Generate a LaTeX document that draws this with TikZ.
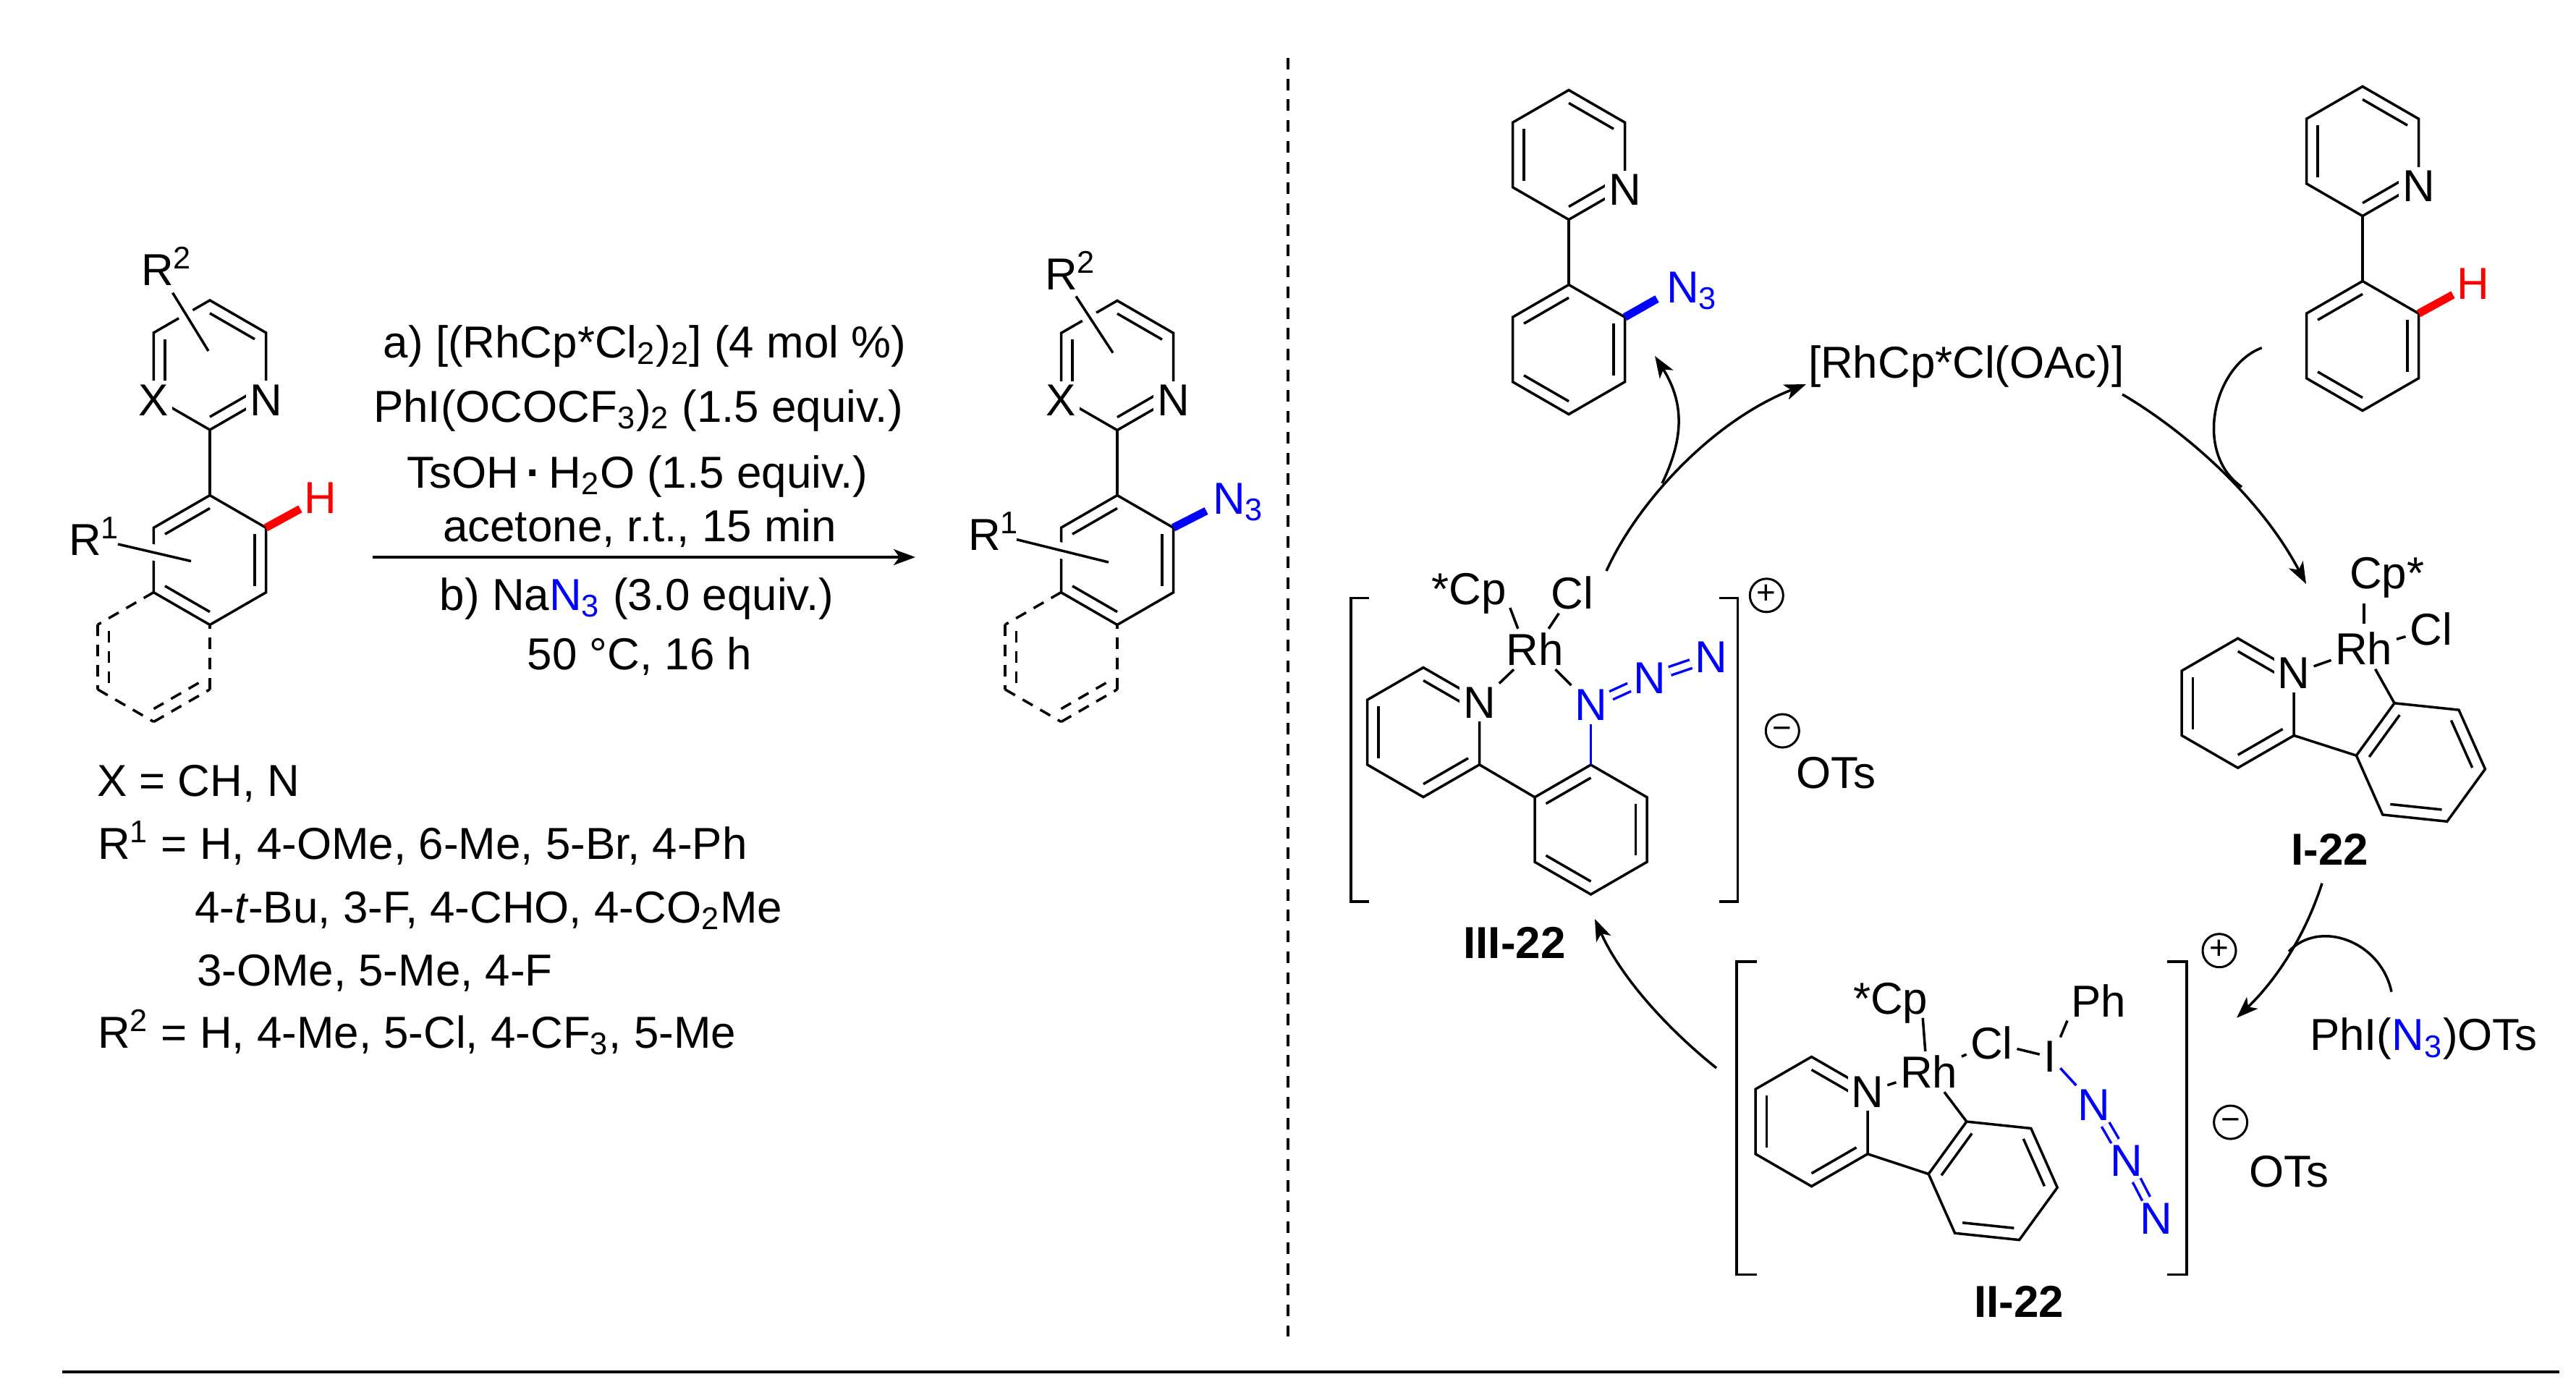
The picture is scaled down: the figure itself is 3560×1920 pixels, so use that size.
\documentclass[tikz,border=0pt]{standalone}
\usepackage{fontspec}
\setmainfont{Liberation Sans}
\usetikzlibrary{calc,arrows.meta}

\tikzset{
    bond/.style={line width=0.035cm},
    dashbond/.style={bond, dash pattern=on 0.16cm off 0.12cm},
    overbond/.style={bond, preaction={draw=white, line width=0.22cm}},
    azide/.style={bond, blue},
    azidedbl/.style={bond, blue, double=white, double distance=0.085cm},
    redwedge/.style={red, line width=0.11cm},
    bluewedge/.style={blue, line width=0.11cm},
    cycle arrow/.style={bond, -{Stealth[length=0.3cm, width=0.22cm, inset=0.08cm]}},
    atom/.style={fill=white, inner sep=0.05cm, outer sep=0pt, yshift=-0.035cm},
    lab/.style={anchor=base west, inner sep=0.05cm, outer sep=0pt},
    line/.style={anchor=base, inner sep=0pt},
    charge/.style={draw, circle, line width=0.03cm, inner sep=0pt, minimum size=0.46cm,
        text height=0.66em, font=\fontsize{13}{13}\selectfont},
}

% corners of a regular ring: name, x, y, turn
\newcommand{\hexpts}[4]{
    \coordinate (#1) at (#2,#3);
    \foreach \k in {0,...,5} {
        \path (#1) ++({#4+60*\k}:89.5) coordinate (#1-\k);
    }
}
\newcommand{\hexring}[4]{
    \hexpts{#1}{#2}{#3}{#4}
    \draw[bond] (#1-0) -- (#1-1) -- (#1-2) -- (#1-3) -- (#1-4) -- (#1-5) -- cycle;
}
\newcommand{\inbond}[4][bond]{\draw[#1] ($(#2-#3)!.2!(#2)$) -- ($(#2-#4)!.2!(#2)$);}
% pyridine ring and arene ring
\newcommand{\tworings}[6]{
    \hexring{#1p}{#2}{#3}{30}
    \hexring{#1a}{#4}{#5}{#6}
    \inbond{#1p}{4}{5} \inbond{#1p}{2}{3} \inbond{#1p}{0}{1}
    \inbond{#1a}{3}{4} \inbond{#1a}{5}{0} \inbond{#1a}{1}{2}
}
% optional fused ring in dashes
\newcommand{\dashring}[3]{
    \hexpts{#1}{#2}{#3}{30}
    \foreach \s/\e in {4/3,3/2,2/1,1/0,0/5} {
        \draw[dashbond] (#1-\s) -- (#1-\e);
    }
    \inbond[dashbond]{#1}{3}{2} \inbond[dashbond]{#1}{0}{1}
}

\begin{document}
\begin{tikzpicture}[x=0.01cm, y=-0.01cm,
    every node/.style={font=\fontsize{17.6}{21}\selectfont, text depth=0pt}]
\useasboundingbox (0,0) rectangle (3560,1920);

% substrate
\tworings{sm}{290}{504.5}{290}{774}{30}
\draw[bond] (sma-4) -- (smp-1);
\dashring{smf}{212.5}{908}
\draw[overbond] (238.6,404.6) -- (288,485);
\draw[overbond] (163,752) -- (264,775.5);
\node[atom] (smX) at (smp-2) {X};
\node[atom] (smN) at (smp-0) {N};
\node[lab] (smRb) at (190,394) {R\textsuperscript{2}};
\node[lab] (smRa) at (90,767) {R\textsuperscript{1}};
\node[inner sep=0.05cm, text=red] (smH) at (443,688) {H};
\draw[redwedge] (sma-5) -- (smH);

% conditions
\node[line] (condA) at (891,494) {a) [(RhCp*Cl\textsubscript{2})\textsubscript{2}] (4 mol \%)};
\node[line] (condB) at (882,583) {PhI(OCOCF\textsubscript{3})\textsubscript{2} (1.5 equiv.)};
\node[line] (condC) at (881,674) {TsOH\,\textbf{·}\,H\textsubscript{2}O (1.5 equiv.)};
\node[line] (condD) at (884,748) {acetone, r.t., 15 min};
\node[line] (condE) at (880,843) {b) Na{\color{blue}N\textsubscript{3}} (3.0 equiv.)};
\node[line] (condF) at (884,925) {50 °C, 16 h};
\coordinate (arrS) at (515,770);
\coordinate (arrE) at (1265,770);
\draw[cycle arrow] (arrS) -- (arrE);

% scope of the reaction
\node[lab] (scX) at (129,1100) {X = CH, N};
\node[lab] (scRa) at (130,1187) {R\textsuperscript{1} = H, 4-OMe, 6-Me, 5-Br, 4-Ph};
\node[lab] (scRb) at (264,1275) {4-\textit{t}-Bu, 3-F, 4-CHO, 4-CO\textsubscript{2}Me};
\node[lab] (scRc) at (267,1362) {3-OMe, 5-Me, 4-F};
\node[lab] (scRd) at (130,1448) {R\textsuperscript{2} = H, 4-Me, 5-Cl, 4-CF\textsubscript{3}, 5-Me};

% product
\tworings{pr}{1544}{505}{1544}{774}{30}
\draw[bond] (pra-4) -- (prp-1);
\dashring{prf}{1466.5}{908}
\draw[overbond] (1487,409.5) -- (1538,487.6);
\draw[overbond] (1405,745.6) -- (1532,777);
\node[atom] (prX) at (prp-2) {X};
\node[atom] (prN) at (prp-0) {N};
\node[lab] (prRb) at (1439,400) {R\textsuperscript{2}};
\node[lab] (prRa) at (1333,760) {R\textsuperscript{1}};
\node[lab, text=blue] (prAz) at (1671,710) {N\textsubscript{3}};
\coordinate (prTip) at (1667,706);
\draw[bluewedge] (pra-5) -- (prTip);

% dividers
\coordinate (divT) at (1780,80);
\coordinate (divB) at (1780,1847);
\draw[line width=0.04cm, dash pattern=on 0.16cm off 0.127cm] (divT) -- (divB);
\coordinate (ruleL) at (86,1896);
\coordinate (ruleR) at (3537,1896);
\draw[line width=0.04cm] (ruleL) -- (ruleR);

% azide formed
\tworings{az}{2168}{214}{2168}{483}{30}
\draw[bond] (aza-4) -- (azp-1);
\node[atom] (azN) at (azp-0) {N};
\node[lab, text=blue] (azAz) at (2298,418) {N\textsubscript{3}};
\coordinate (azTip) at (2290,413);
\draw[bluewedge] (aza-5) -- (azTip);

% arene taken up
\tworings{ar}{3265}{209}{3265}{478}{30}
\draw[bond] (ara-4) -- (arp-1);
\node[atom] (arN) at (arp-0) {N};
\node[inner sep=0.05cm, text=red] (arH) at (3418,392) {H};
\draw[redwedge] (ara-5) -- (arH);

\node[lab] (cat) at (2494,522) {[RhCp*Cl(OAc)]};

% I-22
\tworings{one}{3092.7}{971.7}{3345.4}{1053.5}{6}
\draw[bond] (onep-0) -- (onea-3);
\node[atom] (oneN) at (onep-5) {N};
\node[inner sep=0.05cm] (oneRh) at (3266.8,896.5) {Rh};
\node[lab] (oneCp) at (3242,813) {Cp*};
\node[inner sep=0.05cm] (oneCl) at (3359.5,869.5) {Cl};
\draw[bond] (oneN) -- (oneRh);
\draw[bond] (oneRh) -- (oneCl);
\draw[bond] (oneRh) -- (onea-4);
\draw[bond, shorten <=0.06cm] (oneRh.north) -- ++(0,-34);
\node[anchor=base] (oneName) at (3220,1195) {\textbf{I-22}};

% II-22
\tworings{two}{2503.5}{1550}{2754.2}{1631.8}{6}
\draw[bond] (twop-0) -- (twoa-3);
\node[atom] (twoN) at (twop-5) {N};
\node[inner sep=0.05cm] (twoRh) at (2665.7,1481) {Rh};
\node[lab] (twoCp) at (2556,1401.7) {*Cp};
\node[inner sep=0.05cm] (twoCl) at (2752.5,1441) {Cl};
\node[inner sep=0.05cm] (twoI) at (2833,1460.6) {I};
\node[lab] (twoPh) at (2857,1405.5) {Ph};
\node[inner sep=0.05cm, text=blue] (twoNa) at (2894,1527) {N};
\node[inner sep=0.05cm, text=blue] (twoNb) at (2938.7,1604) {N};
\node[inner sep=0.05cm, text=blue] (twoNc) at (2980,1683.7) {N};
\draw[bond] (twoN) -- (twoRh);
\draw[bond] (twoRh) -- (twoCl);
\draw[bond] (twoCl) -- (twoI);
\draw[bond] (twoRh) -- (twoa-4);
\draw[bond] (twoRh.100) -- ($(twoCp.south east)+(-12,0)$);
\draw[bond] (twoI.north east) -- (twoPh.south west);
\draw[azide] (twoI) -- (twoNa);
\draw[azidedbl] (twoNa) -- (twoNb);
\draw[azidedbl] (twoNb) -- (twoNc);
\draw[bond] (2427.5,1329) -| (2400,1761.4) -- (2427.5,1761.4);
\draw[bond] (2995,1329) -| (3022,1761.4) -- (2995,1761.4);
\node[charge] (twoPlus) at (3067,1313.7) {+};
\node[charge] (twoMinus) at (3082.6,1551) {−};
\node[lab] (twoOTs) at (3103,1640) {OTs};
\node[anchor=base] (twoName) at (2790,1820.4) {\textbf{II-22}};

% III-22
\tworings{thr}{1967}{1012}{2198.5}{1146.5}{30}
\draw[bond] (thrp-0) -- (thra-3);
\node[atom] (thrN) at (thrp-5) {N};
\node[inner sep=0.05cm] (thrRh) at (2121.4,897) {Rh};
\node[lab] (thrCp) at (1973.6,835) {*Cp};
\node[inner sep=0.05cm] (thrCl) at (2173,819.5) {Cl};
\node[inner sep=0.05cm, text=blue] (thrNa) at (2198.5,974) {N};
\node[inner sep=0.05cm, text=blue] (thrNb) at (2279.6,937) {N};
\node[inner sep=0.05cm, text=blue] (thrNc) at (2364.8,908) {N};
\draw[bond] (thrRh) -- (thrN);
\draw[bond] (thrRh) -- (thrNa);
\draw[bond] (thrRh) -- (thrCl);
\draw[bond] (thrRh.130) -- (thrCp.south east);
\draw[azide] (thra-4) -- (thrNa);
\draw[azidedbl] (thrNa) -- (thrNb);
\draw[azidedbl] (thrNb) -- (thrNc);
\draw[bond] (1892,826.5) -| (1867,1246) -- (1892,1246);
\draw[bond] (2375.5,826.5) -| (2401.5,1246) -- (2375.5,1246);
\node[charge] (thrPlus) at (2441.3,822.8) {+};
\node[charge] (thrMinus) at (2463.3,1010) {−};
\node[lab] (thrOTs) at (2477,1089) {OTs};
\node[anchor=base] (thrName) at (2093,1324) {\textbf{III-22}};

\node[lab] (azReag) at (3187,1451.7) {PhI({\color{blue}N\textsubscript{3}})OTs};

% arrows of the cycle
\coordinate (cyA) at (2220,789);
\coordinate (cyB) at (2496,531);
\coordinate (cyC) at (2297,668);
\coordinate (cyD) at (2287,492);
\draw[cycle arrow] (cyA) .. controls (2265,690) and (2370,580) .. (cyB);
\draw[cycle arrow] (cyC) .. controls (2325,610) and (2330,560) .. (cyD);
\coordinate (cyE) at (2933,545);
\coordinate (cyF) at (3187,807);
\coordinate (cyG) at (3125.7,480.7);
\coordinate (cyH) at (3098,673);
\draw[cycle arrow] (cyE) .. controls (3010,590) and (3120,680) .. (cyF);
\draw[bond] (cyG) .. controls (3060,505) and (3030,625) .. (cyH);
\coordinate (cyI) at (3209,1220.7);
\coordinate (cyJ) at (3091,1406.7);
\coordinate (cyK) at (3305,1370.7);
\coordinate (cyL) at (3163,1315);
\draw[cycle arrow] (cyI) .. controls (3185,1295) and (3145,1355) .. (cyJ);
\draw[bond] (cyK) .. controls (3290,1300) and (3205,1270) .. (cyL);
\coordinate (cyM) at (2372,1476);
\coordinate (cyN) at (2204,1270);
\draw[cycle arrow] (cyM) .. controls (2290,1410) and (2235,1340) .. (cyN);
\end{tikzpicture}
\end{document}
